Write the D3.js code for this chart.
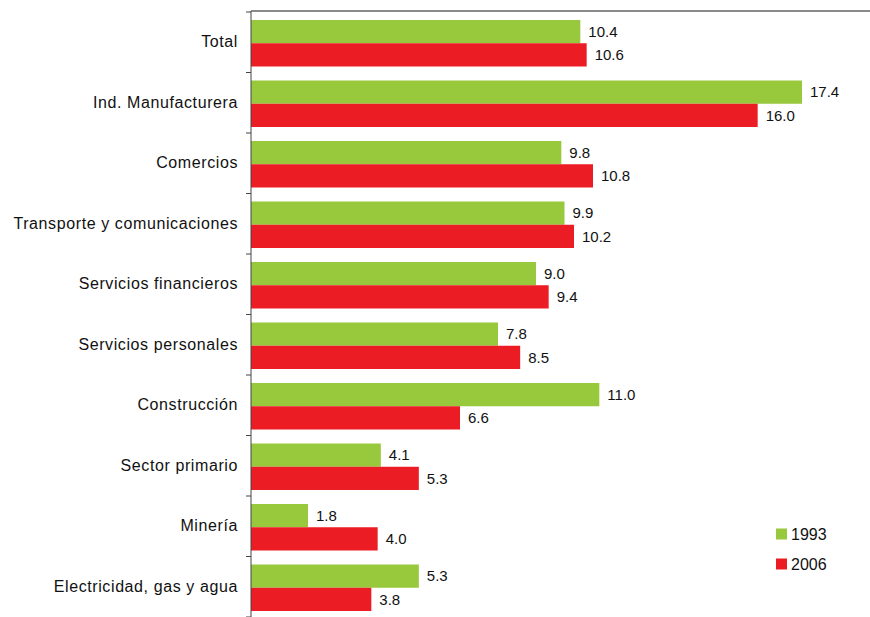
<!DOCTYPE html>
<html>
<head>
<meta charset="utf-8">
<script src="https://cdn.jsdelivr.net/npm/d3@7"></script>
<style>
  body { margin: 0; background: #fff; }
  svg { display: block; }
  text { font-family: "Liberation Sans", Arial, sans-serif; fill: #111; }
</style>
</head>
<body>
<svg id="chart" width="870" height="617"></svg>
<script>
// Sectors, top to bottom
const categories = [
  "Total",
  "Ind. Manufacturera",
  "Comercios",
  "Transporte y comunicaciones",
  "Servicios financieros",
  "Servicios personales",
  "Construcción",
  "Sector primario",
  "Minería",
  "Electricidad, gas y agua"
];
const values1993 = [10.4, 17.4, 9.8, 9.9, 9.0, 7.8, 11.0, 4.1, 1.8, 5.3];
const values2006 = [10.6, 16.0, 10.8, 10.2, 9.4, 8.5, 6.6, 5.3, 4.0, 3.8];
const seriesNames = ["1993", "2006"];
const seriesColors = ["#98c83c", "#ec1c24"];

const svg = d3.select("#chart");
const plotLeft = 251, plotRight = 870, plotTop = 11, plotBottom = 617;

const x = d3.scaleLinear().domain([0, 17.4]).range([plotLeft, 802]);
const y = d3.scaleBand().domain(categories).range([plotTop + 1, plotBottom]).paddingInner(0).paddingOuter(0);
const inner = d3.scaleBand().domain(seriesNames).range([8, y.bandwidth() - 6]).padding(0);

const series = [values1993, values2006];

// top frame line
svg.append("line")
  .attr("x1", plotLeft).attr("x2", plotRight)
  .attr("y1", plotTop).attr("y2", plotTop)
  .attr("stroke", "#8a8a8a").attr("stroke-width", 2);

// bars with value labels
series.forEach((vals, si) => {
  const g = svg.append("g");
  g.selectAll("rect").data(categories).join("rect")
    .attr("x", x(0))
    .attr("y", d => y(d) + inner(seriesNames[si]))
    .attr("width", (d, i) => x(vals[i]) - x(0))
    .attr("height", inner.bandwidth())
    .attr("fill", seriesColors[si]);
  g.selectAll("text").data(categories).join("text")
    .attr("x", (d, i) => x(vals[i]) + 8)
    .attr("y", d => y(d) + inner(seriesNames[si]) + inner.bandwidth() / 2)
    .attr("dy", "0.35em")
    .attr("font-size", 15)
    .text((d, i) => vals[i].toFixed(1));
});

// category axis
const axis = d3.axisLeft(y).tickSize(0).tickPadding(13);
const ag = svg.append("g").attr("transform", `translate(${plotLeft},0)`).call(axis);
ag.select(".domain").attr("stroke", "#444").attr("d", `M0,${plotTop}V${plotBottom}`);
ag.selectAll("text")
  .attr("font-size", 16)
  .attr("letter-spacing", "0.6px")
  .attr("font-family", "Liberation Sans, Arial, sans-serif")
  .attr("fill", "#111");

// boundary ticks between categories
svg.append("g").selectAll("line")
  .data(categories.map(c => y(c)).concat([y(categories[categories.length - 1]) + y.bandwidth()]))
  .join("line")
  .attr("x1", plotLeft - 5).attr("x2", plotLeft)
  .attr("y1", d => d).attr("y2", d => d)
  .attr("stroke", "#444");

// legend
const legend = svg.append("g");
seriesNames.forEach((name, i) => {
  const ly = 534 + i * 30;
  legend.append("rect")
    .attr("x", 776).attr("y", ly - 5.5).attr("width", 11).attr("height", 11)
    .attr("fill", seriesColors[i]);
  legend.append("text")
    .attr("x", 791).attr("y", ly).attr("dy", "0.35em")
    .attr("font-size", 16)
    .text(name);
});
</script>
</body>
</html>
